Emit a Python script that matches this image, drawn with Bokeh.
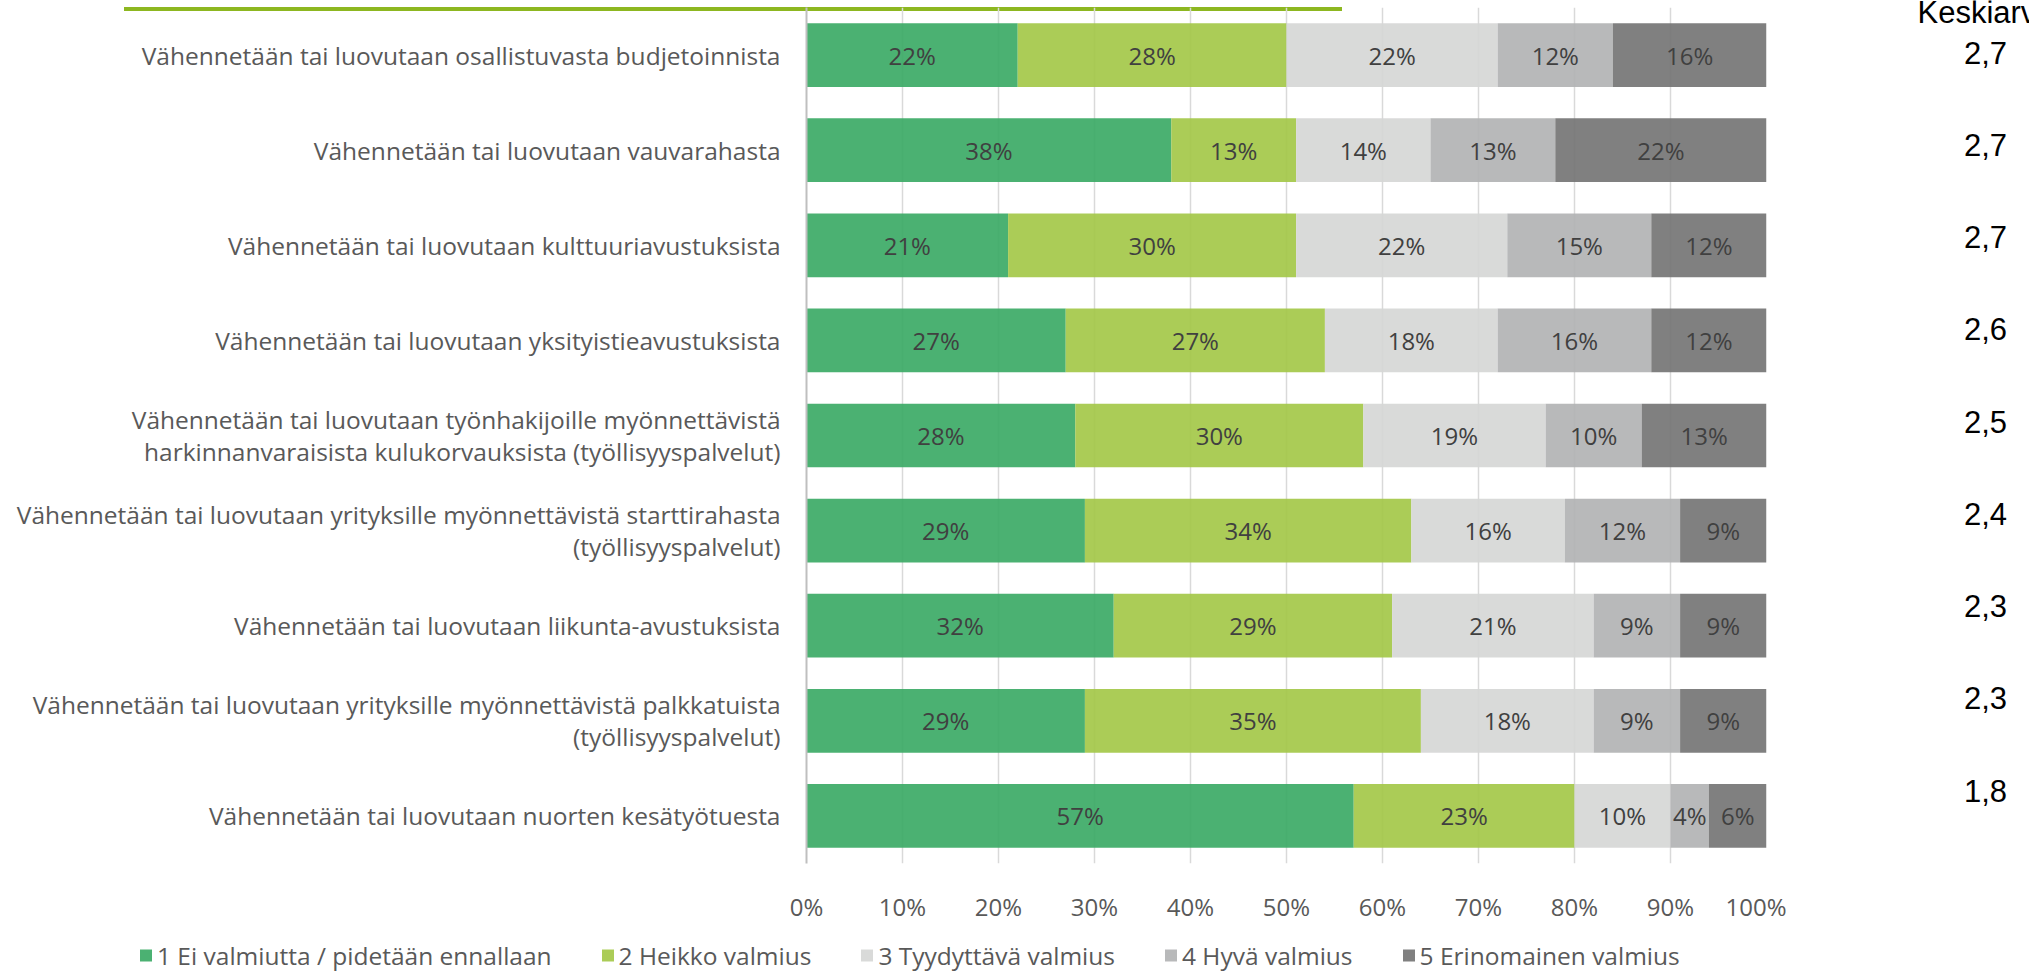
from bokeh.plotting import figure
from bokeh.models import (ColumnDataSource, FactorRange, Range1d, Legend, LegendItem,
                          Label, FixedTicker, PrintfTickFormatter, Div)
from bokeh.layouts import row, column
from bokeh.core.properties import value
from bokeh.embed import file_html
from bokeh.resources import INLINE

categories = [
    "Vähennetään tai luovutaan osallistuvasta budjetoinnista",
    "Vähennetään tai luovutaan vauvarahasta",
    "Vähennetään tai luovutaan kulttuuriavustuksista",
    "Vähennetään tai luovutaan yksityistieavustuksista",
    "Vähennetään tai luovutaan työnhakijoille myönnettävistä\nharkinnanvaraisista kulukorvauksista (työllisyyspalvelut)",
    "Vähennetään tai luovutaan yrityksille myönnettävistä starttirahasta\n(työllisyyspalvelut)",
    "Vähennetään tai luovutaan liikunta-avustuksista",
    "Vähennetään tai luovutaan yrityksille myönnettävistä palkkatuista\n(työllisyyspalvelut)",
    "Vähennetään tai luovutaan nuorten kesätyötuesta",
]
ei_valmiutta = [22, 38, 21, 27, 28, 29, 32, 29, 57]
heikko = [28, 13, 30, 27, 30, 34, 29, 35, 23]
tyydyttava = [22, 14, 22, 18, 19, 16, 21, 18, 10]
hyva = [12, 13, 15, 16, 10, 12, 9, 9, 4]
erinomainen = [16, 22, 12, 12, 13, 9, 9, 9, 6]
keskiarvo = ["2,7", "2,7", "2,7", "2,6", "2,5", "2,4", "2,3", "2,3", "1,8"]
series_names = ["1 Ei valmiutta / pidetään ennallaan", "2 Heikko valmius",
                "3 Tyydyttävä valmius", "4 Hyvä valmius", "5 Erinomainen valmius"]
x_ticks = [0, 10, 20, 30, 40, 50, 60, 70, 80, 90, 100]
mean_header = "Keskiarvo"

series = [ei_valmiutta, heikko, tyydyttava, hyva, erinomainen]
colors = ["#37A863", "#A2C745", "#D5D6D5", "#B0B1B2", "#727272"]

LABEL_FONT = "Open Sans"

# ---------------- main chart ----------------
p = figure(width=1786, height=918, output_backend="svg", toolbar_location=None,
           y_range=FactorRange(factors=categories[::-1]), x_range=Range1d(0, 100),
           min_border_left=806, min_border_right=20, min_border_top=0, min_border_bottom=57)
p.outline_line_color = None
p.background_fill_alpha = 0
p.border_fill_alpha = 0

left = [0] * len(categories)
for vals, col in zip(series, colors):
    right = [l + v for l, v in zip(left, vals)]
    src = ColumnDataSource(dict(cat=categories, left=left, right=right,
                                mid=[(l + r) / 2 for l, r in zip(left, right)],
                                label=[f"{v}%" for v in vals]))
    p.hbar(y="cat", left="left", right="right", height=0.67, source=src,
           fill_color=col, fill_alpha=0.9, line_color=None)
    p.text(x="mid", y="cat", text="label", source=src, text_align="center",
           text_baseline="middle", text_color="#404040", text_font=value(LABEL_FONT),
           text_font_size="24px")
    left = right

p.ygrid.grid_line_color = None
p.xgrid.ticker = FixedTicker(ticks=x_ticks)
p.xgrid.grid_line_color = "#D9D9D9"
p.xgrid.grid_line_width = 1.5

p.xaxis.ticker = FixedTicker(ticks=x_ticks)
p.xaxis.formatter = PrintfTickFormatter(format="%d%%")
p.xaxis.axis_line_color = None
p.xaxis.major_tick_line_color = None
p.xaxis.minor_tick_line_color = None
p.xaxis.major_label_standoff = 20
p.xaxis.major_label_text_font = LABEL_FONT
p.xaxis.major_label_text_font_size = "24px"
p.xaxis.major_label_text_color = "#595959"

p.yaxis.axis_line_color = "#BFBFBF"
p.yaxis.axis_line_width = 2
p.yaxis.major_tick_line_color = None
p.yaxis.minor_tick_line_color = None
p.yaxis.major_label_standoff = 20
p.yaxis.major_label_text_font = LABEL_FONT
p.yaxis.major_label_text_font_size = "24.5px"
p.yaxis.major_label_text_line_height = 0.97
p.yaxis.major_label_text_color = "#595959"

# ---------------- decorative top line ----------------
green_line = Div(text="", width=1218, height=4, margin=(7, 0, -4, 124),
                 styles={"background-color": "#8DB720", "overflow": "hidden",
                         "font-size": "0px", "line-height": "0px"})

# ---------------- mean column ----------------
m = figure(width=243, height=925, output_backend="svg", toolbar_location=None,
           x_axis_type=None, y_axis_type=None, min_border=0,
           x_range=Range1d(-199, 44), y_range=Range1d(9.4634, -0.5637))
m.outline_line_color = None
m.grid.visible = False
msrc = ColumnDataSource(dict(x=[0] * len(keskiarvo), y=list(range(len(keskiarvo))), t=keskiarvo))
m.text(x="x", y="y", text="t", source=msrc, text_align="center", text_baseline="middle",
       text_font=value("Liberation Sans"), text_font_size="31px", text_color="black")
m.add_layout(Label(x=131, y=913, x_units="screen", y_units="screen", text=mean_header,
                   text_font="Liberation Sans", text_font_size="31px", text_color="black",
                   text_baseline="alphabetic", text_align="left"))

# ---------------- legend strip ----------------
lg = figure(width=2029, height=48, output_backend="svg", toolbar_location=None,
            x_axis_type=None, y_axis_type=None, min_border_left=138, min_border_right=0,
            min_border_top=12, min_border_bottom=0,
            x_range=Range1d(0, 1), y_range=Range1d(0, 1))
lg.outline_line_color = None
lg.grid.visible = False
nan = float("nan")
legend_renderers = []
for col in colors:
    legend_renderers.append(lg.hbar(y=[nan], left=[nan], right=[nan], height=1, fill_color=col,
                                    fill_alpha=0.9, line_color=None))
legend = Legend(items=[LegendItem(label=n, renderers=[r]) for n, r in zip(series_names, legend_renderers)],
                orientation="horizontal", location="left",
                glyph_width=15, glyph_height=15, label_standoff=4, spacing=48,
                label_text_font=LABEL_FONT, label_text_font_size="24.5px",
                label_text_color="#595959", border_line_color=None,
                background_fill_alpha=0, padding=0, margin=0)
lg.add_layout(legend, "center")

layout = column(row(column(green_line, p), m), lg)

open("out.html", "w").write(file_html(layout, INLINE))
